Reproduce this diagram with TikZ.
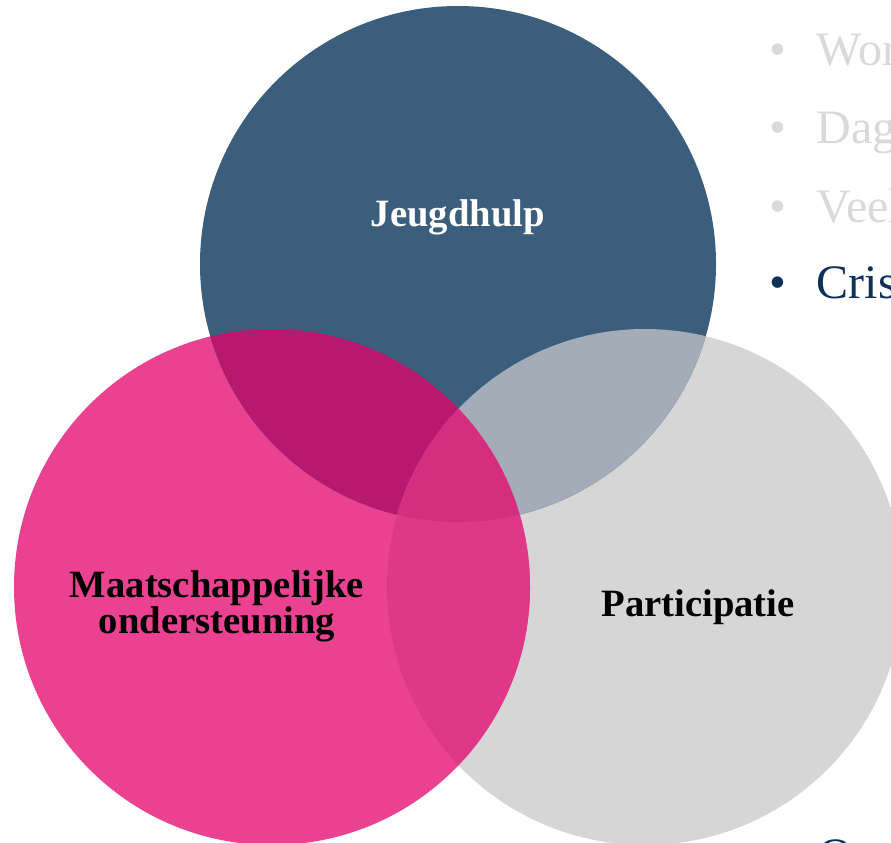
\documentclass[tikz,border=0pt]{standalone}
\usepackage{fontspec}
\setmainfont{Liberation Serif}
\usepackage{tikz}
\usetikzlibrary{positioning}

% kleuren van de cirkels en hun overlap
\definecolor{jeugdblauw}{RGB}{58,94,124}
\definecolor{wmoroze}{RGB}{234,66,144}
\definecolor{partgrijs}{RGB}{214,214,214}
\definecolor{blauwroze}{RGB}{184,24,110}
\definecolor{blauwgrijs}{RGB}{164,173,183}
\definecolor{rozegrijs}{RGB}{224,56,136}
\definecolor{midden}{RGB}{213,45,128}
\definecolor{lichttekst}{RGB}{217,217,217}
\definecolor{donkertekst}{RGB}{12,50,90}

\begin{document}
\begin{tikzpicture}[
          x=0.75pt, y=-0.75pt, % pixels van het origineel
          label/.style={font=\fontsize{29}{27}\selectfont\bfseries, align=center, anchor=base},
          bullet/.style={font=\fontsize{36}{36}\selectfont, anchor=base west, inner sep=0pt}
      ]
        \useasboundingbox (0,0) rectangle (891,842);
        \clip (0,0) rectangle (891,842);
        \def\straal{193.5pt}
        % middelpunten van de drie cirkels
        \coordinate (J) at (458,264);
        \coordinate (M) at (272,587);
        \coordinate (P) at (645,587);
        % de drie cirkels
        \fill[partgrijs]  (P) circle[radius=\straal];
        \fill[wmoroze]    (M) circle[radius=\straal];
        \fill[jeugdblauw] (J) circle[radius=\straal];
        % overlap van twee cirkels
        \begin{scope}
          \clip (J) circle[radius=\straal];
          \fill[blauwroze]  (M) circle[radius=\straal];
          \fill[blauwgrijs] (P) circle[radius=\straal];
        \end{scope}
        \begin{scope}
          \clip (M) circle[radius=\straal];
          \fill[rozegrijs] (P) circle[radius=\straal];
        \end{scope}
        % overlap van alle drie
        \begin{scope}
          \clip (J) circle[radius=\straal];
          \clip (M) circle[radius=\straal];
          \fill[midden] (P) circle[radius=\straal];
        \end{scope}
        % namen in de cirkels
        \node[label, text=white] (jeugd) at (458,226) {Jeugdhulp};
        \node[label] (wmo) at (217,633) {Maatschappelijke\\ondersteuning};
        \node[label] (part) at (698,616) {Participatie};
        % lijst rechts, afgesneden
        \node[bullet, text=lichttekst]  (wo)   at (769,65)  {\textbullet\hspace{23pt}Wor};
        \node[bullet, text=lichttekst]  (dag)  at (769,143) {\textbullet\hspace{23pt}Dag};
        \node[bullet, text=lichttekst]  (veel) at (769,222) {\textbullet\hspace{23pt}Veel};
        \node[bullet, text=donkertekst] (cris) at (769,298) {\textbullet\hspace{23pt}Cris};
        \node[bullet, text=donkertekst] (ot)   at (818,871) {Ot};
      \end{tikzpicture}
\end{document}
